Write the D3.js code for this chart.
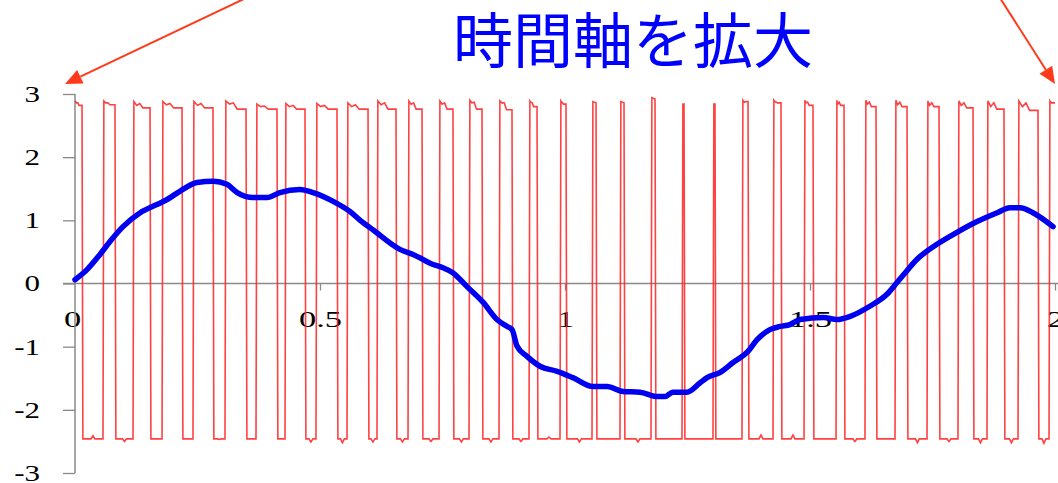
<!DOCTYPE html>
<html><head><meta charset="utf-8">
<script src="https://cdn.jsdelivr.net/npm/d3@7"></script>
<style>body{margin:0;background:#fff;} svg{display:block;}</style>
</head><body>
<svg id="chart" width="1058" height="483"></svg>
<script>
const titleText = "時間軸を拡大";
const xTicks = [0, 0.5, 1, 1.5, 2];
const xTickLabels = ["0", "0.5", "1", "1.5", "2"];
const yTicks = [-3, -2, -1, 0, 1, 2, 3];
const yTickLabels = ["-3", "-2", "-1", "0", "1", "2", "3"];

// PWM (red) pulse edges, in time units
const pulseRise = [0, 0.0571, 0.1184, 0.1776, 0.2408, 0.3061, 0.3694, 0.4286, 0.4918, 0.5551, 0.6163, 0.6796, 0.7429, 0.8041, 0.8653, 0.9265, 0.9898, 1.0551, 1.1122, 1.1755, 1.2388, 1.3020, 1.3612, 1.4245, 1.4878, 1.5531, 1.6122, 1.6735, 1.7388, 1.8020, 1.8612, 1.9245, 1.9878];
const pulseFall = [0.0143, 0.0816, 0.1531, 0.2184, 0.2816, 0.3490, 0.4122, 0.4694, 0.5347, 0.5980, 0.6551, 0.7082, 0.7714, 0.8306, 0.8918, 0.9429, 1.0020, 1.0633, 1.1204, 1.1837, 1.2429, 1.3061, 1.3735, 1.4408, 1.5061, 1.5694, 1.6347, 1.6980, 1.7633, 1.8327, 1.8959, 1.9653, 2.0];
const topStart = [2.89, 2.89, 2.88, 2.88, 2.88, 2.89, 2.84, 2.85, 2.85, 2.86, 2.89, 2.89, 2.89, 2.90, 2.89, 2.89, 2.89, 2.88, 2.88, 2.94, 2.84, 2.84, 2.90, 2.90, 2.90, 2.90, 2.90, 2.90, 2.89, 2.89, 2.89, 2.89, 2.89];
const topMid = [2.86, 2.86, 2.82, 2.83, 2.82, 2.84, 2.80, 2.80, 2.80, 2.80, 2.83, 2.84, 2.84, 2.86, 2.86, 2.87, 2.88, 2.88, 2.88, 2.94, 2.84, 2.84, 2.89, 2.88, 2.86, 2.84, 2.84, 2.83, 2.82, 2.82, 2.80, 2.80, 2.88];
const topEnd = [2.82, 2.83, 2.78, 2.78, 2.78, 2.76, 2.76, 2.76, 2.76, 2.76, 2.76, 2.76, 2.76, 2.76, 2.75, 2.80, 2.84, 2.86, 2.86, 2.92, 2.84, 2.84, 2.88, 2.86, 2.82, 2.82, 2.80, 2.80, 2.80, 2.78, 2.76, 2.74, 2.86];
const lowLevel = -2.46;
const lowMid = [-2.41, -2.50, -2.46, -2.46, -2.47, -2.46, -2.46, -2.51, -2.52, -2.51, -2.51, -2.50, -2.51, -2.51, -2.50, -2.43, -2.51, -2.46, -2.51, -2.46, -2.46, -2.46, -2.40, -2.40, -2.46, -2.50, -2.46, -2.52, -2.50, -2.52, -2.52, -2.53];

// filtered (blue) signal
const blueX = [0, 0.0245, 0.051, 0.071, 0.098, 0.133, 0.167, 0.188, 0.214, 0.249, 0.282, 0.310, 0.331, 0.363, 0.392, 0.418, 0.459, 0.486, 0.527, 0.561, 0.582, 0.608, 0.663, 0.690, 0.731, 0.751, 0.771, 0.800, 0.833, 0.861, 0.882, 0.892, 0.902, 0.922, 0.949, 0.984, 1.016, 1.057, 1.086, 1.118, 1.153, 1.188, 1.204, 1.220, 1.249, 1.276, 1.290, 1.316, 1.343, 1.373, 1.392, 1.418, 1.439, 1.459, 1.480, 1.527, 1.555, 1.582, 1.622, 1.657, 1.678, 1.690, 1.718, 1.759, 1.800, 1.841, 1.882, 1.908, 1.929, 1.955, 1.996];
const blueY = [0.06, 0.22, 0.46, 0.66, 0.90, 1.12, 1.25, 1.33, 1.46, 1.60, 1.62, 1.57, 1.44, 1.36, 1.36, 1.44, 1.49, 1.44, 1.30, 1.14, 1.00, 0.85, 0.54, 0.46, 0.30, 0.25, 0.17, -0.05, -0.30, -0.57, -0.68, -0.73, -0.99, -1.15, -1.31, -1.39, -1.49, -1.63, -1.63, -1.71, -1.72, -1.79, -1.79, -1.72, -1.72, -1.57, -1.49, -1.41, -1.25, -1.08, -0.89, -0.73, -0.68, -0.65, -0.57, -0.54, -0.57, -0.52, -0.36, -0.17, 0.02, 0.13, 0.38, 0.62, 0.81, 0.98, 1.12, 1.20, 1.20, 1.12, 0.90];

const W = 1058, H = 483;
const svg = d3.select("#chart");
const x = d3.scaleLinear().domain([0, 2]).range([75, 1055]);
const y = d3.scaleLinear().domain([-3, 3]).range([473, 94]);
const axisColor = "#8a8a8a";
const labelFont = "'Liberation Serif', 'Times New Roman', serif";
const yStretch = 1.35, xStretch = 1.5;

// Axes
const yAxis = d3.axisLeft(y).tickValues(yTicks).tickSize(12).tickPadding(23)
  .tickFormat((d, i) => yTickLabels[i]);
const gy = svg.append("g").attr("transform", `translate(${x(0)},0)`).call(yAxis);
const xAxis = d3.axisBottom(x).tickValues(xTicks).tickSize(7).tickPadding(20)
  .tickFormat((d, i) => xTickLabels[i]);
const gx = svg.append("g").attr("transform", `translate(0,${y(0)})`).call(xAxis);
[gx, gy].forEach(g => {
  g.select(".domain").remove();
  g.selectAll(".tick line").attr("stroke", axisColor).attr("stroke-width", 1.3);
  g.selectAll(".tick text").attr("fill", "#000").style("font-family", labelFont).style("font-size", "23px");
});
gy.selectAll(".tick text").attr("x", -35 / yStretch).attr("transform", `scale(${yStretch},1)`);
gx.selectAll(".tick").filter(d => d === 0).select("line").remove();
gx.selectAll(".tick text").attr("x", (d, i) => i === 0 ? -3 / xStretch : 0).attr("transform", `scale(${xStretch},1)`);
svg.append("line").attr("x1", x(0)).attr("x2", x(0)).attr("y1", y(3)).attr("y2", y(-3))
  .attr("stroke", axisColor).attr("stroke-width", 1.5);
svg.append("line").attr("x1", x(0) - 12).attr("x2", W).attr("y1", y(0)).attr("y2", y(0))
  .attr("stroke", axisColor).attr("stroke-width", 1.3);

// Red PWM path
const redPts = [];
for (let i = 0; i < pulseRise.length; i++) {
  const r = pulseRise[i], f = pulseFall[i], w = f - r;
  const e = Math.min(0.0018, w / 2);
  if (i === 0) redPts.push([r, topStart[i]]);
  else { redPts.push([r, lowLevel]); redPts.push([r + e, topStart[i]]); }
  if (w > 0.012) {
    redPts.push([r + 0.22 * w, topMid[i]]);
    redPts.push([r + 0.40 * w, topStart[i] - 0.03]);
    redPts.push([r + 0.58 * w, topEnd[i]]);
  }
  if (i < lowMid.length) {
    redPts.push([f, topEnd[i]]);
    const nr = pulseRise[i + 1];
    const fe = f + 0.0018;
    const m = (fe + nr) / 2;
    redPts.push([fe, lowLevel]);
    redPts.push([m - 0.004, lowLevel]);
    redPts.push([m, lowMid[i]]);
    redPts.push([m + 0.004, lowLevel]);
  } else {
    redPts.push([f, topEnd[i]]);
  }
}
const line = d3.line().x(d => x(d[0])).y(d => y(d[1]));
svg.append("path").attr("d", line(redPts)).attr("fill", "none")
  .attr("stroke", "#ff2020").attr("stroke-width", 1.6).attr("stroke-opacity", 0.85)
  .attr("stroke-linejoin", "miter");

// Blue path
const bluePts = blueX.map((v, i) => [v, blueY[i]]);
svg.append("path").attr("d", d3.line().x(d => x(d[0])).y(d => y(d[1])).curve(d3.curveMonotoneX)(bluePts))
  .attr("fill", "none").attr("stroke", "#0000f0").attr("stroke-width", 5.5)
  .attr("stroke-linecap", "round").attr("stroke-linejoin", "round");

// Title
svg.append("text").attr("x", 633).attr("y", 63).attr("text-anchor", "middle")
  .style("font-family", "'Noto Sans CJK JP', sans-serif").style("font-size", "60px")
  .attr("fill", "#0000ff").text(titleText);

// Arrows
function arrow(x1, y1, x2, y2) {
  const a = Math.atan2(y2 - y1, x2 - x1), L = 17, Wd = 7.5;
  const bx = x2 - L * Math.cos(a), by = y2 - L * Math.sin(a);
  const px = -Math.sin(a), py = Math.cos(a);
  svg.append("line").attr("x1", x1).attr("y1", y1).attr("x2", bx).attr("y2", by)
    .attr("stroke", "#ff3a1a").attr("stroke-width", 2);
  svg.append("polygon").attr("points", [[x2, y2], [bx + px * Wd, by + py * Wd], [bx - px * Wd, by - py * Wd]].map(p => p.join(",")).join(" "))
    .attr("fill", "#ff3a1a");
}
arrow(246, -2, 65, 84);
arrow(1000, -2, 1055, 84);
</script>
</body></html>
